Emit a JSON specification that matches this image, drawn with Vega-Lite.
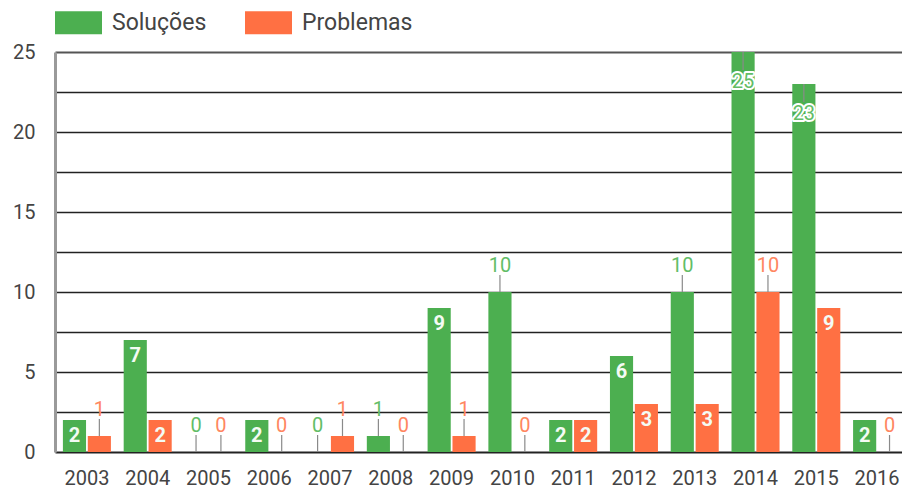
{
  "$schema": "https://vega.github.io/schema/vega-lite/v6.json",
  "width": 847,
  "height": 400,
  "autosize": {"type": "none"},
  "padding": {"left": 55, "top": 52, "right": 0, "bottom": 37},
  "background": "white",
  "config": {
    "font": "Roboto",
    "view": {"stroke": null}
  },
  "data": {
    "values": [
      {"ano": "2003", "serie": "Soluções", "valor": 2},
      {"ano": "2003", "serie": "Problemas", "valor": 1},
      {"ano": "2004", "serie": "Soluções", "valor": 7},
      {"ano": "2004", "serie": "Problemas", "valor": 2},
      {"ano": "2005", "serie": "Soluções", "valor": 0},
      {"ano": "2005", "serie": "Problemas", "valor": 0},
      {"ano": "2006", "serie": "Soluções", "valor": 2},
      {"ano": "2006", "serie": "Problemas", "valor": 0},
      {"ano": "2007", "serie": "Soluções", "valor": 0},
      {"ano": "2007", "serie": "Problemas", "valor": 1},
      {"ano": "2008", "serie": "Soluções", "valor": 1},
      {"ano": "2008", "serie": "Problemas", "valor": 0},
      {"ano": "2009", "serie": "Soluções", "valor": 9},
      {"ano": "2009", "serie": "Problemas", "valor": 1},
      {"ano": "2010", "serie": "Soluções", "valor": 10},
      {"ano": "2010", "serie": "Problemas", "valor": 0},
      {"ano": "2011", "serie": "Soluções", "valor": 2},
      {"ano": "2011", "serie": "Problemas", "valor": 2},
      {"ano": "2012", "serie": "Soluções", "valor": 6},
      {"ano": "2012", "serie": "Problemas", "valor": 3},
      {"ano": "2013", "serie": "Soluções", "valor": 10},
      {"ano": "2013", "serie": "Problemas", "valor": 3},
      {"ano": "2014", "serie": "Soluções", "valor": 25},
      {"ano": "2014", "serie": "Problemas", "valor": 10},
      {"ano": "2015", "serie": "Soluções", "valor": 23},
      {"ano": "2015", "serie": "Problemas", "valor": 9},
      {"ano": "2016", "serie": "Soluções", "valor": 2},
      {"ano": "2016", "serie": "Problemas", "valor": 0}
    ]
  },
  "encoding": {
    "x": {
      "field": "ano",
      "type": "nominal",
      "scale": {"range": [0, 854], "paddingInner": 0.21, "paddingOuter": 0.13},
      "axis": {
        "title": null,
        "domain": false,
        "ticks": false,
        "labelAngle": 0,
        "labelFontSize": 20,
        "labelColor": "#444",
        "labelPadding": 16
      }
    },
    "xOffset": {
      "field": "serie",
      "type": "nominal",
      "sort": ["Soluções", "Problemas"],
      "scale": {"paddingInner": 0.07}
    },
    "y": {
      "field": "valor",
      "type": "quantitative",
      "scale": {"domain": [0, 25], "nice": false},
      "axis": {
        "title": null,
        "values": [0, 2.5, 5, 7.5, 10, 12.5, 15, 17.5, 20, 22.5, 25],
        "labelExpr": "datum.value % 5 === 0 ? datum.label : ''",
        "ticks": false,
        "domain": true,
        "domainColor": "#9a9a9a",
        "domainWidth": 3,
        "grid": true,
        "gridColor": {"condition": {"test": "datum.value === 25", "value": "#555"}, "value": "#222"},
        "gridWidth": {"condition": {"test": "datum.value === 25 || datum.value === 0", "value": 2.2}, "value": 1.4},
        "labelFontSize": 20,
        "labelColor": "#444",
        "labelPadding": 20
      }
    },
    "color": {
      "field": "serie",
      "type": "nominal",
      "scale": {"domain": ["Soluções", "Problemas"], "range": ["#4caf50", "#ff7043"]},
      "legend": {
        "title": null,
        "orient": "none",
        "legendX": 0,
        "legendY": -53,
        "direction": "horizontal",
        "symbolType": "M-1,-0.49H1V0.49H-1Z",
        "symbolSize": 2209,
        "symbolStrokeWidth": 0,
        "symbolOpacity": 1,
        "labelFontSize": 23,
        "labelColor": "#444",
        "labelOffset": 10,
        "columnPadding": 38,
        "padding": 0
      }
    }
  },
  "layer": [
    {"mark": {"type": "bar", "opacity": 1}},
    {
      "transform": [{"filter": "datum.valor < 2 || (datum.valor >= 10 && datum.valor < 20)"}],
      "mark": {"type": "rule", "strokeWidth": 1.2, "yOffset": -17, "y2Offset": 0},
      "encoding": {"y2": {"field": "valor"}, "color": {"value": "#8a8a8a"}}
    },
    {
      "transform": [{"filter": "datum.valor < 2 || (datum.valor >= 10 && datum.valor < 20)"}],
      "mark": {"type": "text", "fontSize": 20, "baseline": "alphabetic", "dy": -20},
      "encoding": {
        "text": {"field": "valor"},
        "color": {"condition": {"test": "datum.serie === 'Soluções'", "value": "#62bd66"}, "value": "#ff8660"}
      }
    },
    {
      "transform": [{"filter": "datum.valor >= 2 && datum.valor < 10"}],
      "mark": {"type": "text", "fontSize": 20, "fontWeight": "bold", "baseline": "alphabetic", "dy": 21.5},
      "encoding": {"text": {"field": "valor"}, "color": {"value": "#f4fbf4"}}
    },
    {
      "transform": [{"filter": "datum.valor >= 20"}],
      "mark": {"type": "rule", "strokeWidth": 1.2, "yOffset": 0, "y2Offset": 18},
      "encoding": {"y2": {"field": "valor"}, "color": {"value": "#8a8a8a"}}
    },
    {
      "transform": [{"filter": "datum.valor >= 20"}],
      "mark": {"type": "text", "fontSize": 20, "baseline": "alphabetic", "dy": 36, "stroke": "white", "strokeWidth": 4, "strokeJoin": "round"},
      "encoding": {"text": {"field": "valor"}, "color": {"value": "white"}}
    },
    {
      "transform": [{"filter": "datum.valor >= 20"}],
      "mark": {"type": "text", "fontSize": 20, "baseline": "alphabetic", "dy": 36},
      "encoding": {"text": {"field": "valor"}, "color": {"value": "#62bd66"}}
    }
  ]
}
